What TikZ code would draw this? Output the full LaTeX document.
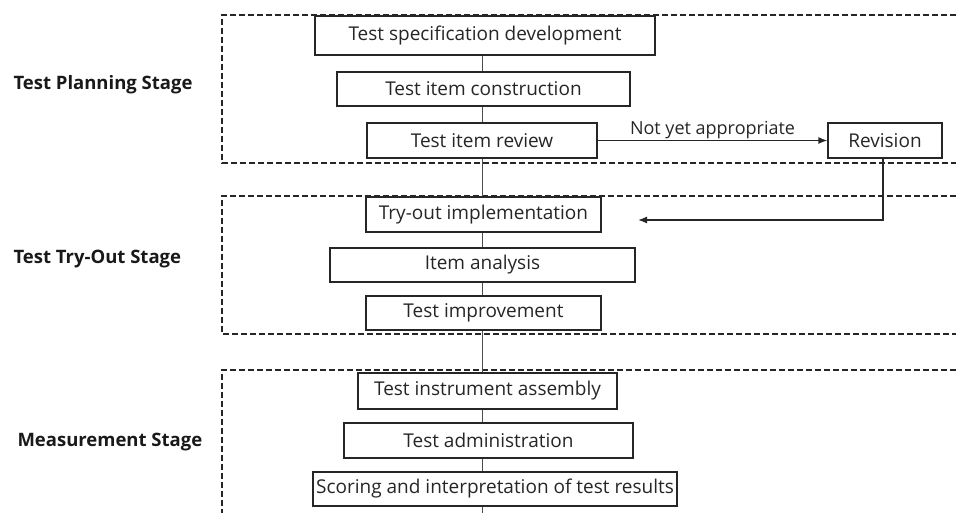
\documentclass[tikz,border=0pt]{standalone}
\usepackage{fontspec}
\setmainfont{Open Sans}
\usetikzlibrary{arrows.meta}
\begin{document}
\begin{tikzpicture}[x=1pt,y=-1pt,
  stepbox/.style={draw=black!85,line width=1.3pt,fill=white,inner sep=0pt,font=\fontsize{19}{21}\selectfont,text=black!85},
  stage/.style={font=\bfseries\fontsize{18.5}{22}\selectfont,text=black!90,anchor=west},
  frame/.style={draw=black!85,line width=1.3pt,dash pattern=on 6pt off 3pt},
  link/.style={draw=black!70,line width=1pt},
  arr/.style={draw=black!85,line width=1.3pt,-{Latex[length=9pt,width=7pt]}}]
\useasboundingbox (0,0) rectangle (956,513);
% stage frames
\draw[frame] (956,15) -| (222,163) -- (956,163);
\draw[frame] (956,196) -| (222,334) -- (956,334);
\draw[frame] (956,370) -| (222,513);
% stage labels
\node[stage] (l1) at (10,85) {Test Planning Stage};
\node[stage] (l2) at (10,259) {Test Try-Out Stage};
\node[stage] (l3) at (14,442) {Measurement Stage};
\coordinate (sp) at (482,0);
% boxes
\node[stepbox,minimum width=340,minimum height=39] (b1) at (485,35.5) {Test specification development};
\node[stepbox,minimum width=293,minimum height=34] (b2) at (483.5,89) {Test item construction};
\node[stepbox,minimum width=230,minimum height=35] (b3) at (482,140.5) {Test item review};
\node[stepbox,minimum width=114,minimum height=35] (rv) at (885,140.5) {Revision};
\node[stepbox,minimum width=235,minimum height=35] (b4) at (483.5,214.5) {Try-out implementation};
\node[stepbox,minimum width=305,minimum height=34] (b5) at (482.5,265) {Item analysis};
\node[stepbox,minimum width=235,minimum height=34] (b6) at (483.5,313) {Test improvement};
\node[stepbox,minimum width=259,minimum height=36] (b7) at (487.5,391) {Test instrument assembly};
\node[stepbox,minimum width=289,minimum height=35] (b8) at (488.5,440.5) {Test administration};
\node[stepbox,minimum width=364,minimum height=34] (b9) at (495,489) {Scoring and interpretation of test results};
\coordinate (endp) at (482,513);
\coordinate (back) at (638,220);
% spine
\draw[link] (b1.south -| sp) -- (b2.north -| sp);
\draw[link] (b2.south -| sp) -- (b3.north -| sp);
\draw[link] (b3.south -| sp) -- (b4.north -| sp);
\draw[link] (b4.south -| sp) -- (b5.north -| sp);
\draw[link] (b5.south -| sp) -- (b6.north -| sp);
\draw[link] (b6.south -| sp) -- (b7.north -| sp);
\draw[link] (b7.south -| sp) -- (b8.north -| sp);
\draw[link] (b8.south -| sp) -- (b9.north -| sp);
\draw[link] (b9.south -| sp) -- (endp);
% revision loop
\draw[arr] (b3.east) -- node[above=-2pt,font=\fontsize{18}{20}\selectfont,text=black!85] {Not yet appropriate} (rv.west);
\draw[arr] (rv.south -| 883,0) |- (back);
\end{tikzpicture}
\end{document}
